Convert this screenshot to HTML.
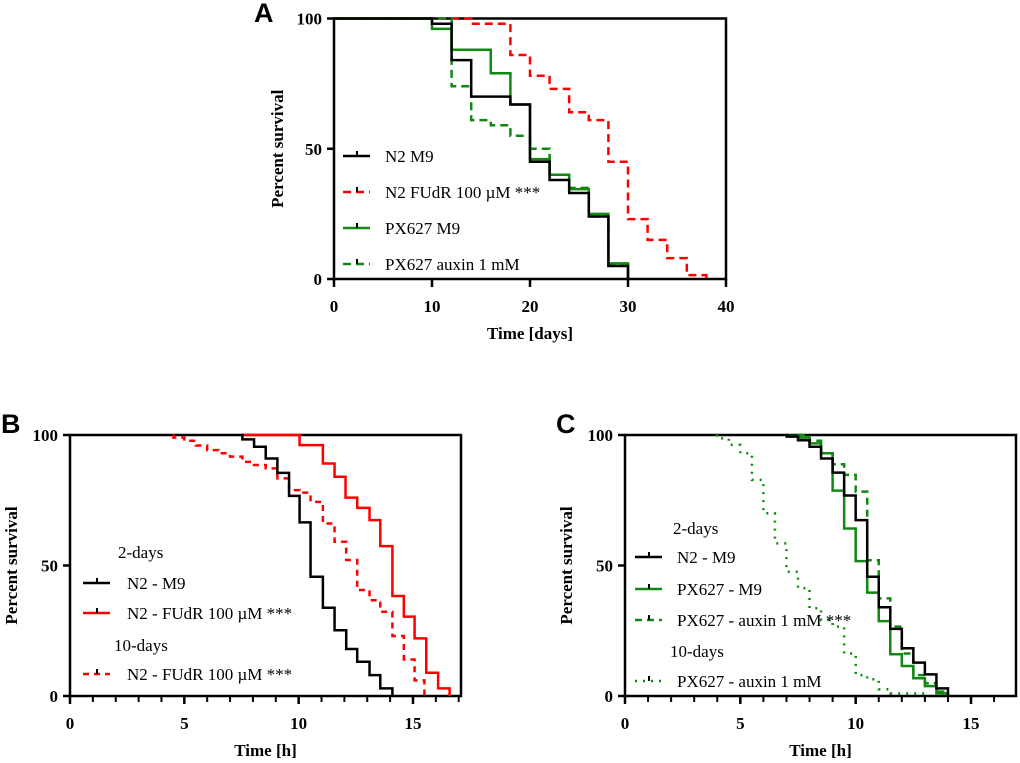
<!DOCTYPE html>
<html><head><meta charset="utf-8">
<style>
body{margin:0;background:#fff;}
svg{display:block;}
.tk{font-family:"Liberation Serif",serif;font-size:17px;font-weight:bold;fill:#000;}
.tt{font-family:"Liberation Serif",serif;font-size:17px;font-weight:bold;fill:#000;}
.lg{font-family:"Liberation Serif",serif;font-size:17px;fill:#000;}
.pl{font-family:"Liberation Sans",Arial,sans-serif;font-size:27px;font-weight:bold;fill:#000;}
</style></head>
<body>
<svg id="fig" width="1020" height="763" viewBox="0 0 1020 763" xmlns="http://www.w3.org/2000/svg"></svg>
<script>
// ---------- DATA ----------
// Panel A (days)
const aN2M9T = [0,10,12,14,18,20,22,24,26,28,30];
const aN2M9V = [100,98,84,70,67,45,38,33,24,5,0];
const aPXM9T = [0,10,12,16,18,20,22,24,26,28,30];
const aPXM9V = [100,96,88,79,67,46,40,34.5,25,6,0];
const aPXAuxT = [0,12,14,16,18,20,22,24,26,28,30];
const aPXAuxV = [100,74,61,59,55,50,40,35,24,5.5,0];
const aFudrT = [0,14,18,20,22,24,26,28,30,32,34,36,38];
const aFudrV = [100,98,86,78,73,64,61,45,23,15,8,1.5,0];
const aXTicks = [0,10,20,30,40];
const yTicks = [0,50,100];
// Panel B (hours)
const bN2M9T = [7.5,7.54,8.05,8.56,9.07,9.58,10.04,10.52,11.06,11.57,12.08,12.56,13.1,13.57,14.1];
const bN2M9V = [100,98.3,95.5,91,85.5,76.7,66.5,45.7,33.8,25.2,18,13.1,8,2.9,0];
const bFudr2T = [7.5,10.04,11.06,11.57,12.05,12.56,13.1,13.57,14.1,14.6,15.07,15.58,16.1,16.6];
const bFudr2V = [100,96.1,89.1,84,76,72.1,67.4,57.4,38.3,30.4,22.1,8.9,2.9,0];
const bFudr10T = [4.5,4.52,5.0,5.5,6.0,6.5,7.0,7.54,8.05,8.56,9.07,9.58,10.04,10.52,11.06,11.57,12.08,12.56,13.1,13.57,14.1,14.6,15.07,15.5];
const bFudr10V = [100,99,97.8,96,94.2,93,91.7,89.7,88.5,87.2,83.4,78.9,77.9,74.4,66.1,59.1,52.1,40.6,36.7,32.3,23,14,6,0];
const bXTicks = [0,5,10,15];
// Panel C (hours)
const cN2M9T = [7,7.01,7.5,8.0,8.5,9.0,9.5,10.0,10.5,11.0,11.5,12.0,12.5,13.0,13.5,14.0];
const cN2M9V = [100,99.4,98,95.5,91,85.6,76.8,67.4,45.7,34,25.7,18.3,12.8,8.3,2.9,0];
const cPXM9T = [7,7.01,7.5,8.0,8.5,9.0,9.5,10.0,10.5,11.0,11.5,12.0,12.5,13.0,13.5,14.0];
const cPXM9V = [100,99.6,99,96.8,93,78.7,64.2,51.7,39.6,28.7,16,11.5,6.8,3.8,1,0];
const cAux2T = [7.5,8.0,8.5,9.0,9.5,10.0,10.5,11.0,11.5,12.0,12.5,13.0,13.5,14.0];
const cAux2V = [100,97.8,93,88.8,84.7,78.3,52,37.4,26.6,16.3,8,4.9,1.7,0];
const cAux10T = [3.97,3.98,4.5,5.0,5.5,6.0,6.5,7.0,7.5,8.0,8.5,9.0,9.5,10.0,10.5,11.0,11.5,13.0];
const cAux10V = [100,98.7,96.2,93,82.8,70,58.5,47.6,41.3,33.6,29.1,26.6,16.3,8,6.4,2.6,1,0];

// ---------- DRAW ----------
const NS="http://www.w3.org/2000/svg";
const svg=document.getElementById('fig');
function mk(tag,attrs,parent){const e=document.createElementNS(NS,tag);for(const k in attrs)e.setAttribute(k,attrs[k]);(parent||svg).appendChild(e);return e;}
function txt(s,x,y,cls,anchor,parent){const t=mk('text',{x:x,y:y,class:cls,'text-anchor':anchor||'start'},parent);t.textContent=s;return t;}

function panel(p){
  const g=mk('g',{});
  
  
  const X=v=>p.x0+(v-p.xmin)/(p.xmax-p.xmin)*(p.x1-p.x0);
  const Y=v=>p.y0-(v/100)*(p.y0-p.y1);
  const fr=mk('rect',{x:p.x0,y:p.y1,width:p.x1-p.x0,height:p.y0-p.y1,fill:'none',stroke:'#000','stroke-width':2.5},g);
  
  
  yTicks.forEach(v=>{
    mk('line',{x1:p.x0-7,x2:p.x0,y1:Y(v),y2:Y(v),stroke:'#000','stroke-width':2.5},g);
    const t=txt(String(v),p.x0-12,Y(v)+6,'tk','end',g);
    
    
  });
  if(p.minor){for(let v=p.xmin;v<=p.xmax;v+=p.minor){mk('line',{x1:X(v),x2:X(v),y1:p.y0,y2:p.y0+6,stroke:'#000','stroke-width':2},g);}}
  p.xticks.forEach(v=>{
    mk('line',{x1:X(v),x2:X(v),y1:p.y0,y2:p.y0+8,stroke:'#000','stroke-width':2.5},g);
    const t=txt(String(v),X(v),p.y0+33,'tk','middle',g);
    
    
  });
  const xt=txt(p.xtitle,(p.x0+p.x1)/2,p.y0+60,'tt','middle',g);
  
  
  const yt=txt('Percent survival',0,0,'tt','middle',g);
  yt.setAttribute('transform','translate('+p.ytx+','+((p.y0+p.y1)/2)+') rotate(-90)');
  
  
  const lb=txt(p.label,p.lx,p.ly,'pl','start',g);
  
  
  p.series.forEach(s=>{
    let d='M'+X(s.t[0])+','+Y(s.v[0]);
    for(let i=1;i<s.t.length;i++){d+=' H'+X(s.t[i])+' V'+Y(s.v[i]);}
    const path=mk('path',{d:d,fill:'none',stroke:s.c,'stroke-width':2.5,'stroke-dasharray':s.dash||'none'},g);
    
    
  });
  p.legend.forEach(L=>{
    if(L.header){const h=txt(L.header,L.x,L.y+6,'lg','start',g);return;}
    const lg=mk('g',{},g);
    
    
    mk('line',{x1:L.x,x2:L.x+27,y1:L.y,y2:L.y,stroke:L.c,'stroke-width':2.5,'stroke-dasharray':L.dash||'none'},lg);
    mk('line',{x1:L.x+14,x2:L.x+14,y1:L.y-5,y2:L.y,stroke:'#000','stroke-width':2},lg);
    txt(L.text,L.x+L.dx,L.y+6,'lg','start',lg);
  });
}

panel({name:'panel-a',label:'A',lx:254,ly:22,x0:334,x1:726,y0:279,y1:18.5,xmin:0,xmax:40,xticks:aXTicks,xtitle:'Time [days]',ytx:283,
 series:[
  {n:'line-n2-fudr',t:aFudrT,v:aFudrV,c:'#ff0000',dash:'8,5'},
  {n:'line-px627-auxin',t:aPXAuxT,v:aPXAuxV,c:'#118811',dash:'8,5'},
  {n:'line-px627-m9',t:aPXM9T,v:aPXM9V,c:'#118811'},
  {n:'line-n2-m9',t:aN2M9T,v:aN2M9V,c:'#000'}],
 legend:[
  {x:343,y:156,c:'#000',text:'N2 M9',dx:42},
  {x:343,y:192,c:'#ff0000',dash:'8,5',text:'N2 FUdR 100 µM ***',dx:42},
  {x:343,y:228,c:'#118811',text:'PX627 M9',dx:42},
  {x:343,y:264,c:'#118811',dash:'8,5',text:'PX627 auxin 1 mM',dx:42}]
});
panel({name:'panel-b',label:'B',lx:1,ly:433,x0:70,x1:461,y0:696,y1:435,xmin:0,xmax:17.1,minor:1,xticks:bXTicks,xtitle:'Time [h]',ytx:17,
 series:[
  {n:'line-n2-fudr-10days',t:bFudr10T,v:bFudr10V,c:'#ff0000',dash:'6,5'},
  {n:'line-n2-fudr-2days',t:bFudr2T,v:bFudr2V,c:'#ff0000'},
  {n:'line-n2-m9',t:bN2M9T,v:bN2M9V,c:'#000'}],
 legend:[
  {header:'2-days',x:118,y:552},
  {x:83,y:583,c:'#000',text:'N2 - M9',dx:44},
  {x:83,y:613,c:'#ff0000',text:'N2 - FUdR 100 µM ***',dx:44},
  {header:'10-days',x:114,y:645},
  {x:83,y:674,c:'#ff0000',dash:'6,5',text:'N2 - FUdR 100 µM ***',dx:44}]
});
panel({name:'panel-c',label:'C',lx:556,ly:433,x0:625,x1:1016,y0:696,y1:435,xmin:0,xmax:16.95,minor:1,xticks:bXTicks,xtitle:'Time [h]',ytx:572,
 series:[
  {n:'line-px627-auxin-10days',t:cAux10T,v:cAux10V,c:'#118811',dash:'2,6'},
  {n:'line-px627-auxin-2days',t:cAux2T,v:cAux2V,c:'#118811',dash:'7,5'},
  {n:'line-px627-m9',t:cPXM9T,v:cPXM9V,c:'#118811'},
  {n:'line-n2-m9',t:cN2M9T,v:cN2M9V,c:'#000'}],
 legend:[
  {header:'2-days',x:673,y:528},
  {x:635,y:557,c:'#000',text:'N2 - M9',dx:42},
  {x:635,y:589,c:'#118811',text:'PX627 - M9',dx:42},
  {x:635,y:620,c:'#118811',dash:'7,5',text:'PX627 - auxin 1 mM ***',dx:42},
  {header:'10-days',x:670,y:651},
  {x:635,y:681,c:'#118811',dash:'2,6',text:'PX627 - auxin 1 mM',dx:42}]
});
</script>
</body></html>
